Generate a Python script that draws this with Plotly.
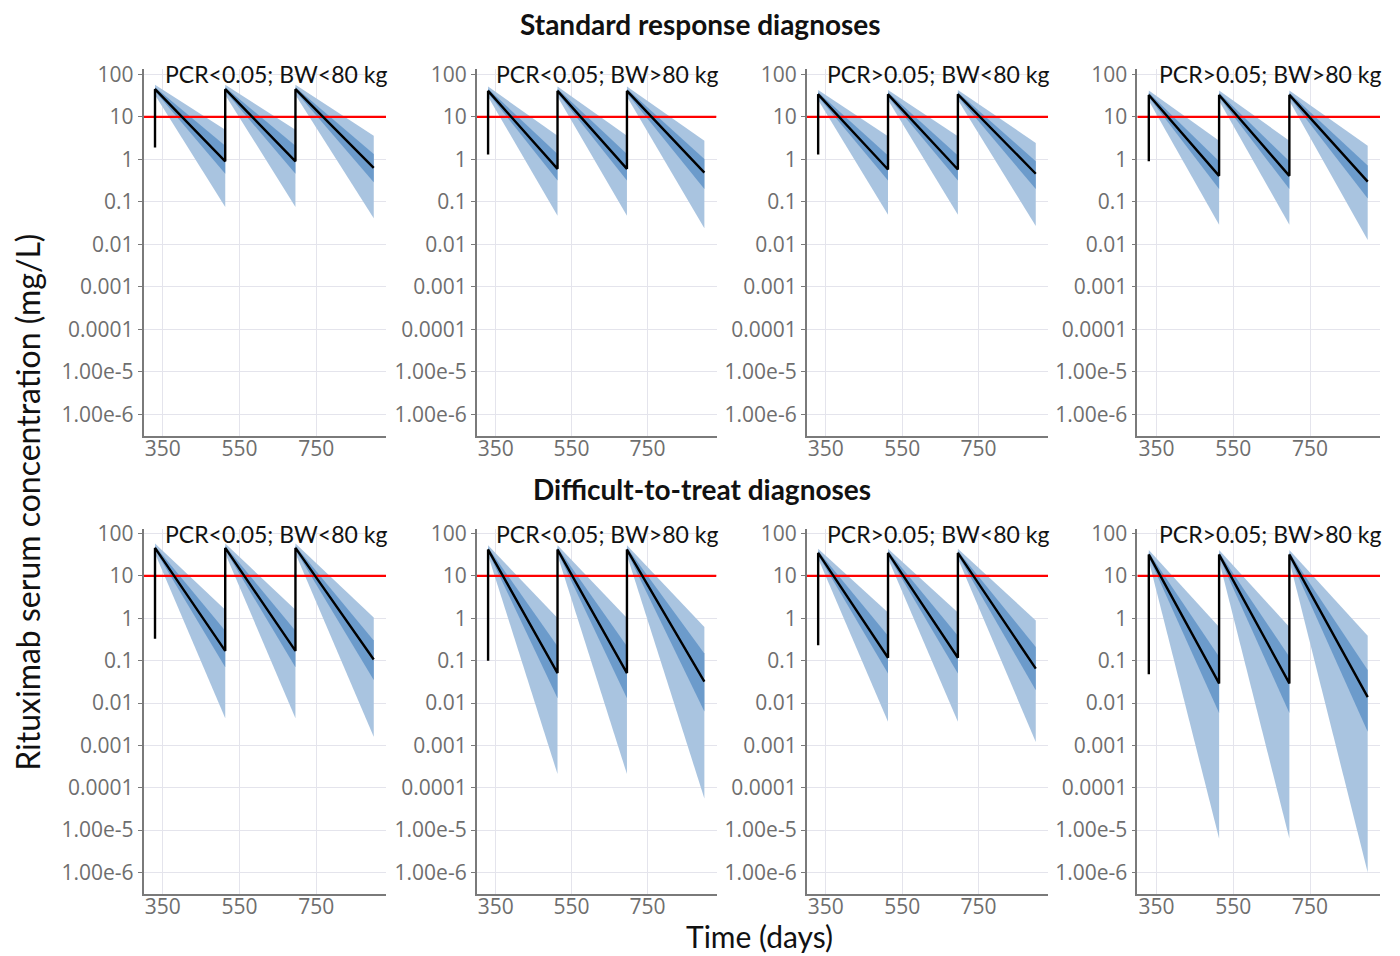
import plotly.graph_objects as go
from plotly.subplots import make_subplots

# ---------------- data ----------------
dose_days = [330, 513, 696]
end_day = 900
threshold = 10

panel_titles = ["PCR<0.05; BW<80 kg", "PCR<0.05; BW>80 kg",
                "PCR>0.05; BW<80 kg", "PCR>0.05; BW>80 kg",
                "PCR<0.05; BW<80 kg", "PCR<0.05; BW>80 kg",
                "PCR>0.05; BW<80 kg", "PCR>0.05; BW>80 kg"]
row_titles = ["Standard response diagnoses", "Difficult-to-treat diagnoses"]

pre_dose = [1.9, 1.3, 1.3, 0.9, 0.33, 0.1, 0.23, 0.048]

peak_med = [45, 41, 34, 33, 46, 42, 35, 32]
peak_p5 = [33, 30, 25, 24, 34, 31, 26, 23]
peak_p95 = [57, 52, 43, 42, 58, 53, 44, 41]
peak_p25 = [40, 36, 30, 29, 41, 37, 31, 28]
peak_p75 = [50, 46, 38, 37, 51, 47, 39, 36]

trough_med = [0.9, 0.6, 0.58, 0.41, 0.17, 0.051, 0.117, 0.029]
trough_p5 = [0.076, 0.047, 0.05, 0.029, 0.0044, 0.00021, 0.0036, 6.3e-6]
trough_p95 = [5.0, 3.6, 3.5, 2.75, 1.6, 1.02, 1.38, 0.62]
trough_p25 = [0.46, 0.32, 0.32, 0.2, 0.07, 0.013, 0.05, 0.0058]
trough_p75 = [2.1, 1.35, 1.23, 0.9, 0.51, 0.22, 0.39, 0.123]

end_med = [0.63, 0.49, 0.46, 0.3, 0.107, 0.032, 0.065, 0.0138]
end_p5 = [0.041, 0.024, 0.027, 0.0126, 0.0016, 0.000056, 0.0012, 1.0e-6]
end_p95 = [3.6, 2.75, 2.45, 2.1, 1.05, 0.62, 0.89, 0.39]
end_p25 = [0.29, 0.2, 0.2, 0.12, 0.035, 0.0063, 0.02, 0.0021]
end_p75 = [1.35, 1.02, 0.9, 0.72, 0.3, 0.148, 0.21, 0.06]

y_tickvals = [1e-6, 1e-5, 1e-4, 1e-3, 1e-2, 1e-1, 1, 10, 100]
y_ticktext = ["1.00e-6", "1.00e-5", "0.0001", "0.001", "0.01", "0.1", "1", "10", "100"]
x_tickvals = [350, 550, 750]
x_range = [300, 932]
y_range_log = [-6.5, 2.12]

# ---------------- style / layout ----------------
W, H = 1400, 956
col_px = [(143.5, 386), (476.7, 716.5), (806.7, 1048), (1137.3, 1380)]
row_px = [(60, 430), (524, 893)]
light = "#a9c4e0"
dark = "#6c9bcb"
grid = "#e4e4ec"
axis_col = "#7a7a7a"
tick_font = dict(family="Open Sans", size=21, color="#6e6e6e")
label_family = "Lato"

fig = make_subplots(rows=2, cols=4)

for i in range(8):
    r, c = i // 4 + 1, i % 4 + 1
    seg_starts = dose_days
    seg_ends = dose_days[1:] + [end_day]
    for k in range(3):
        x0, x1 = seg_starts[k], seg_ends[k]
        if k < 2:
            t5, t95, t25, t75 = trough_p5[i], trough_p95[i], trough_p25[i], trough_p75[i]
        else:
            t5, t95, t25, t75 = end_p5[i], end_p95[i], end_p25[i], end_p75[i]
        fig.add_trace(go.Scatter(
            x=[x0, x1, x1, x0, x0], y=[peak_p95[i], t95, t5, peak_p5[i], peak_p95[i]],
            fill="toself", fillcolor=light, line=dict(width=0), mode="lines",
            hoverinfo="skip", showlegend=False), row=r, col=c)
        fig.add_trace(go.Scatter(
            x=[x0, x1, x1, x0, x0], y=[peak_p75[i], t75, t25, peak_p25[i], peak_p75[i]],
            fill="toself", fillcolor=dark, line=dict(width=0), mode="lines",
            hoverinfo="skip", showlegend=False), row=r, col=c)
    fig.add_trace(go.Scatter(x=x_range, y=[threshold, threshold], mode="lines",
                             line=dict(color="#ff0000", width=2.2),
                             hoverinfo="skip", showlegend=False, cliponaxis=True), row=r, col=c)
    mx = [dose_days[0], dose_days[0], dose_days[1], dose_days[1], dose_days[2], dose_days[2], end_day]
    my = [pre_dose[i], peak_med[i], trough_med[i], peak_med[i], trough_med[i], peak_med[i], end_med[i]]
    fig.add_trace(go.Scatter(x=mx, y=my, mode="lines", line=dict(color="#000000", width=2.4),
                             hoverinfo="skip", showlegend=False), row=r, col=c)

for i in range(8):
    r, c = i // 4, i % 4
    xn = "xaxis" if i == 0 else f"xaxis{i+1}"
    yn = "yaxis" if i == 0 else f"yaxis{i+1}"
    fig.layout[xn].update(
        domain=[col_px[c][0] / W, col_px[c][1] / W],
        range=x_range, tickvals=x_tickvals, ticks="", showline=True, linecolor=axis_col,
        linewidth=1.6, showgrid=True, gridcolor=grid, gridwidth=1, zeroline=False,
        tickfont=tick_font, ticklabelstandoff=-7)
    fig.layout[yn].update(
        domain=[1 - row_px[r][1] / H, 1 - row_px[r][0] / H],
        type="log", range=y_range_log, tickvals=y_tickvals, ticktext=y_ticktext,
        ticks="outside", ticklen=4, tickcolor=axis_col, showline=True, linecolor=axis_col,
        linewidth=1.6, showgrid=True, gridcolor=grid, gridwidth=1, zeroline=False,
        tickfont=tick_font)

annotations = []
for i in range(8):
    xr = "x" if i == 0 else f"x{i+1}"
    yr = "y" if i == 0 else f"y{i+1}"
    annotations.append(dict(text=panel_titles[i], xref=f"{xr} domain", yref=yr, x=1, y=2,
                            xanchor="right", yanchor="middle", xshift=3, yshift=0, showarrow=False,
                            font=dict(family=label_family, size=23, color="#111111")))
annotations.append(dict(text="<b>" + row_titles[0] + "</b>", xref="paper", yref="paper",
                        x=701 / W, y=1 - 14 / H, xanchor="center", yanchor="middle", showarrow=False,
                        font=dict(family=label_family, size=28, color="#111111")))
annotations.append(dict(text="<b>" + row_titles[1] + "</b>", xref="paper", yref="paper",
                        x=702 / W, y=1 - 484 / H, xanchor="center", yanchor="middle", showarrow=False,
                        font=dict(family=label_family, size=28, color="#111111")))
annotations.append(dict(text="Rituximab serum concentration (mg/L)", xref="paper", yref="paper",
                        x=28 / W, y=1 - 498 / H, xanchor="center", yanchor="middle", textangle=-90,
                        showarrow=False, font=dict(family=label_family, size=32, color="#111111")))
annotations.append(dict(text="Time (days)", xref="paper", yref="paper",
                        x=760 / W, y=0, xanchor="center", yanchor="bottom",
                        showarrow=False, font=dict(family=label_family, size=30, color="#111111")))

fig.update_layout(width=W, height=H, margin=dict(l=0, r=0, t=0, b=0),
                  paper_bgcolor="white", plot_bgcolor="white", annotations=annotations,
                  showlegend=False)

fig.write_html("out.html")
